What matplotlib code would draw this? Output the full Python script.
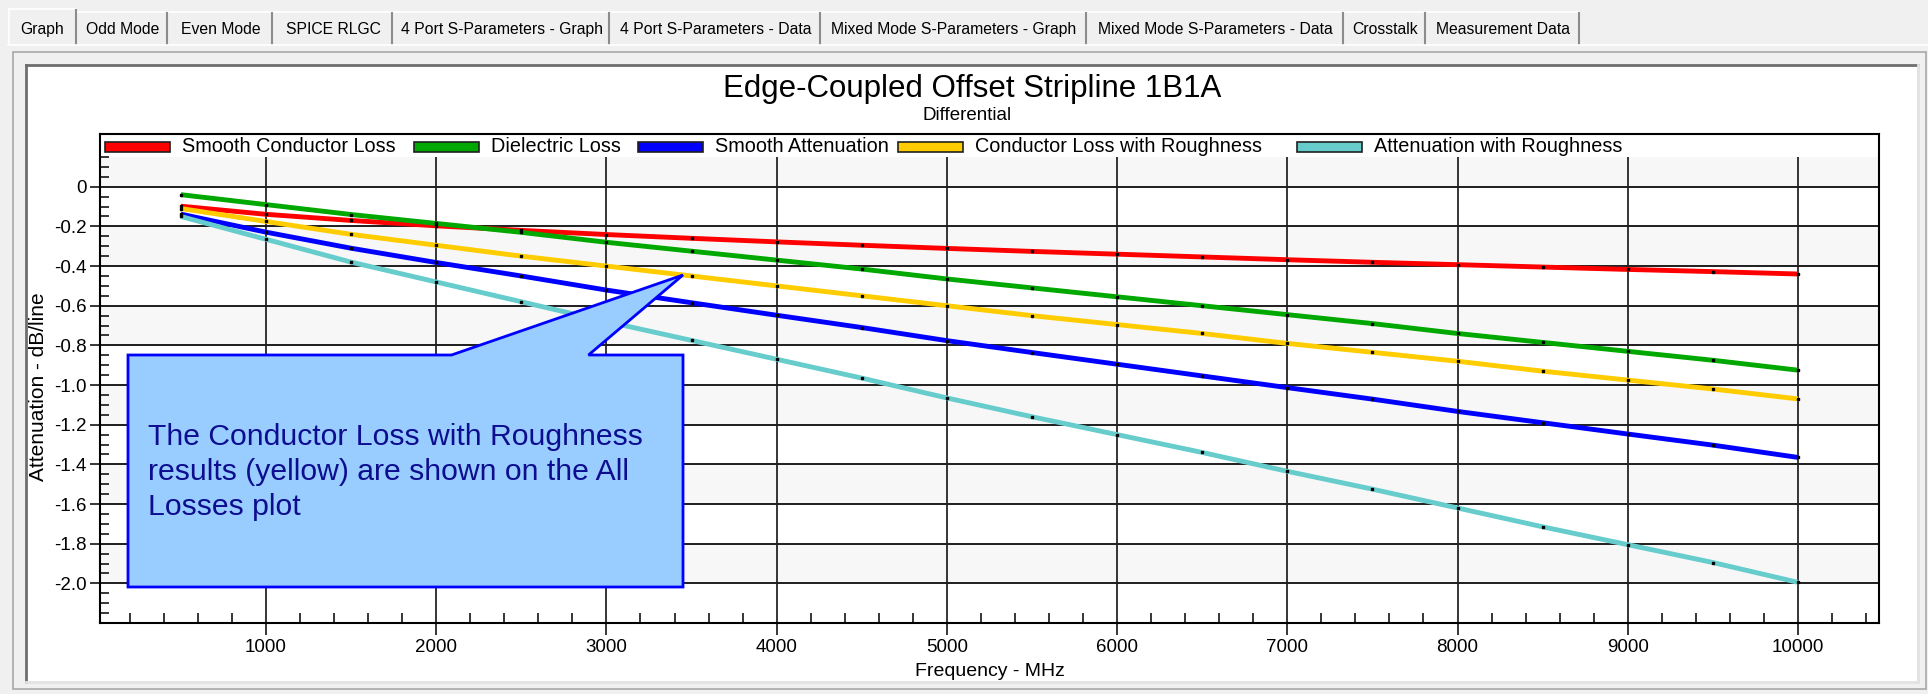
import numpy as np
import matplotlib
matplotlib.use("Agg")
import matplotlib.pyplot as plt
from matplotlib.patches import Rectangle, Polygon
from matplotlib.lines import Line2D

# ---------------- data ----------------
freq_mhz = [500, 1000, 1500, 2000, 2500, 3000, 3500, 4000, 4500, 5000,
            5500, 6000, 6500, 7000, 7500, 8000, 8500, 9000, 9500, 10000]

smooth_conductor_loss = [-0.098, -0.139, -0.170, -0.197, -0.220, -0.241, -0.260, -0.278, -0.295, -0.311,
                         -0.326, -0.340, -0.354, -0.368, -0.381, -0.393, -0.405, -0.417, -0.428, -0.440]
dielectric_loss = [-0.040, -0.090, -0.140, -0.185, -0.230, -0.280, -0.325, -0.370, -0.415, -0.465,
                   -0.510, -0.555, -0.600, -0.645, -0.690, -0.740, -0.785, -0.830, -0.875, -0.925]
smooth_attenuation = [-0.138, -0.229, -0.310, -0.382, -0.450, -0.521, -0.585, -0.648, -0.710, -0.776,
                      -0.836, -0.895, -0.954, -1.013, -1.071, -1.133, -1.190, -1.247, -1.303, -1.365]
conductor_loss_rough = [-0.110, -0.175, -0.240, -0.295, -0.350, -0.400, -0.450, -0.500, -0.550, -0.600,
                        -0.650, -0.695, -0.740, -0.790, -0.835, -0.880, -0.930, -0.975, -1.020, -1.070]
attenuation_rough = [-0.150, -0.265, -0.380, -0.480, -0.580, -0.680, -0.775, -0.870, -0.965, -1.065,
                     -1.160, -1.250, -1.340, -1.435, -1.525, -1.620, -1.715, -1.805, -1.895, -1.995]

series_names = ["Smooth Conductor Loss", "Dielectric Loss", "Smooth Attenuation",
                "Conductor Loss with Roughness", "Attenuation with Roughness"]
series_colors = ["#ff0000", "#00a800", "#0000ff", "#ffcc00", "#66cccc"]

x_ticks = [1000, 2000, 3000, 4000, 5000, 6000, 7000, 8000, 9000, 10000]
x_tick_labels = ["1000", "2000", "3000", "4000", "5000", "6000", "7000", "8000", "9000", "10000"]
y_ticks = [0, -0.2, -0.4, -0.6, -0.8, -1.0, -1.2, -1.4, -1.6, -1.8, -2.0]
y_tick_labels = ["0", "-0.2", "-0.4", "-0.6", "-0.8", "-1.0", "-1.2", "-1.4", "-1.6", "-1.8", "-2.0"]

tab_labels = ["Graph", "Odd Mode", "Even Mode", "SPICE RLGC", "4 Port S-Parameters - Graph",
              "4 Port S-Parameters - Data", "Mixed Mode S-Parameters - Graph",
              "Mixed Mode S-Parameters - Data", "Crosstalk", "Measurement Data"]

chart_title = "Edge-Coupled Offset Stripline 1B1A"
chart_subtitle = "Differential"
x_label = "Frequency - MHz"
y_label = "Attenuation - dB/line"
callout_text = "The Conductor Loss with Roughness\nresults (yellow) are shown on the All\nLosses plot"
callout_target_mhz = 3450

# ---------------- figure ----------------
plt.rcParams["font.family"] = ["Liberation Sans", "DejaVu Sans"]
W, H = 1928, 694
fig = plt.figure(figsize=(W / 100, H / 100), dpi=100, facecolor="#f0f0f0")


def fx(px):
    return px / W


def fy(py):
    return 1 - py / H


def frect(x0, y0, x1, y1, **kw):
    r = Rectangle((fx(x0), fy(y1)), (x1 - x0) / W, (y1 - y0) / H,
                  transform=fig.transFigure, **kw)
    fig.add_artist(r)
    return r


def fline(x0, y0, x1, y1, **kw):
    fig.add_artist(Line2D([fx(x0), fx(x1)], [fy(y0), fy(y1)], transform=fig.transFigure, **kw))


# tabs
tab_edges = [8, 77, 168, 273, 393, 610, 821, 1087, 1344, 1426, 1580]
fline(8, 44.5, W, 44.5, color="white", lw=1.2)
for i, lab in enumerate(tab_labels):
    x0, x1 = tab_edges[i], tab_edges[i + 1]
    top = 9 if i == 0 else 12
    frect(x0, top, x1, 44, facecolor="#f0f0f0", edgecolor="none", zorder=0.5)
    fline(x0 + 1, top, x1 - 1, top, color="#ffffff", lw=1.2, zorder=0.6)
    fline(x1 - 1, top + 1, x1 - 1, 44, color="#8c8c8c", lw=1.5, zorder=0.6)
    if i == 0:
        fline(x0 + 1, top, x0 + 1, 45, color="#ffffff", lw=1.2, zorder=0.6)
    fig.text(fx((x0 + x1) / 2), fy(29.5), lab, ha="center", va="center",
             fontsize=11.3, color="black", zorder=0.7)

# tab page and white chart panel
frect(13, 52, 1926, 689, facecolor="#f0f0f0", edgecolor="#a8a8a8", lw=1.2, zorder=0.1)
frect(26, 65, 1918, 682, facecolor="white", edgecolor="none", zorder=0.2)
fline(26, 65, 1918, 65, color="#6e6e6e", lw=2, zorder=0.3)
fline(26, 65, 26, 682, color="#6e6e6e", lw=2, zorder=0.3)
fline(1918, 65, 1918, 682, color="#e2e2e2", lw=2, zorder=0.3)
fline(26, 682, 1918, 682, color="#e2e2e2", lw=2, zorder=0.3)

# titles
fig.text(fx(972), fy(88.5), chart_title, ha="center", va="center", fontsize=22.5, color="black")
fig.text(fx(967), fy(115.5), chart_subtitle, ha="center", va="center", fontsize=13.5, color="black")

# ---------------- axes ----------------
ax = fig.add_axes([fx(100), fy(623), (1879 - 100) / W, (623 - 134) / H])
ax.set_zorder(2)
ax.set_facecolor("white")
x_lo, x_hi = 25, 10476
y_lo, y_hi = -2.2, 0.266
plot_top = 0.15
ax.set_xlim(x_lo, x_hi)
ax.set_ylim(y_lo, y_hi)

# alternating bands
bounds = [plot_top] + y_ticks + [y_lo]
for k in range(len(bounds) - 1):
    if k % 2 == 0:
        ax.axhspan(bounds[k + 1], bounds[k], color="#f7f7f7", lw=0, zorder=0)

ax.vlines(x_ticks, y_lo, plot_top, colors="black", lw=1.1, zorder=1)
ax.hlines(y_ticks, x_lo, x_hi, colors="#1e1e1e", lw=1.4, zorder=1)

all_series = [smooth_conductor_loss, dielectric_loss, smooth_attenuation,
              conductor_loss_rough, attenuation_rough]
for vals, col in zip(all_series, series_colors):
    ax.plot(freq_mhz, vals, color=col, lw=3.5, zorder=3, solid_capstyle="butt")
for vals in all_series:
    ax.plot(freq_mhz, vals, ls="none", marker="s", ms=2.0, color="black", zorder=4)

ax.set_xticks(x_ticks)
ax.set_xticklabels(x_tick_labels)
ax.set_xticks([v for v in range(200, 10500, 200) if v % 1000 != 0], minor=True)
ax.set_yticks(y_ticks)
ax.set_yticklabels(y_tick_labels)
ax.set_yticks([round(v, 2) for v in np.arange(-2.15, 0.151, 0.05)
               if abs(round(v / 0.2) * 0.2 - v) > 1e-6], minor=True)
ax.tick_params(axis="x", which="major", direction="out", length=8.5, width=1.1, pad=3,
               labelsize=13.5)
ax.tick_params(axis="x", which="minor", direction="in", length=7, width=1.1)
ax.tick_params(axis="y", which="major", direction="out", length=7, width=1.1, pad=2.5,
               labelsize=13.5)
ax.tick_params(axis="y", which="minor", direction="in", length=6.5, width=1.1)
for s in ax.spines.values():
    s.set_linewidth(1.5)
    s.set_color("black")

fig.text(fx(990), fy(671), x_label, ha="center", va="center", fontsize=14, zorder=3)
fig.text(fx(39), fy(387), y_label, ha="center", va="center", fontsize=15, rotation=90, zorder=3)

# legend (manual, in the white strip above the plot area)
legend_patch_x = [105, 414, 638, 898, 1297]
for name, col, px0 in zip(series_names, series_colors, legend_patch_x):
    frect(px0, 142, px0 + 65, 152, facecolor=col, edgecolor="#202020", lw=1.2, zorder=6)
    fig.text(fx(px0 + 77), fy(147), name, ha="left", va="center", fontsize=14.3, zorder=6)

# callout
tip_disp = ax.transData.transform((callout_target_mhz,
                                   np.interp(callout_target_mhz, freq_mhz, conductor_loss_rough)))
tip_fig = fig.transFigure.inverted().transform(tip_disp)
poly_px = [(128, 587), (128, 355), (451.5, 355), None, (588.5, 355), (683, 355), (683, 587)]
pts = []
for p in poly_px:
    if p is None:
        pts.append(tuple(tip_fig))
    else:
        pts.append((fx(p[0]), fy(p[1])))
fig.add_artist(Polygon(pts, closed=True, transform=fig.transFigure, facecolor="#99ccff",
                       edgecolor="#0000ff", lw=2.0, zorder=10))
fig.text(fx(148), fy(472), callout_text, ha="left", va="center", fontsize=21.7,
         color="#0d0d8f", linespacing=1.31, zorder=11)

fig.savefig("out.png", dpi=100, facecolor=fig.get_facecolor())
